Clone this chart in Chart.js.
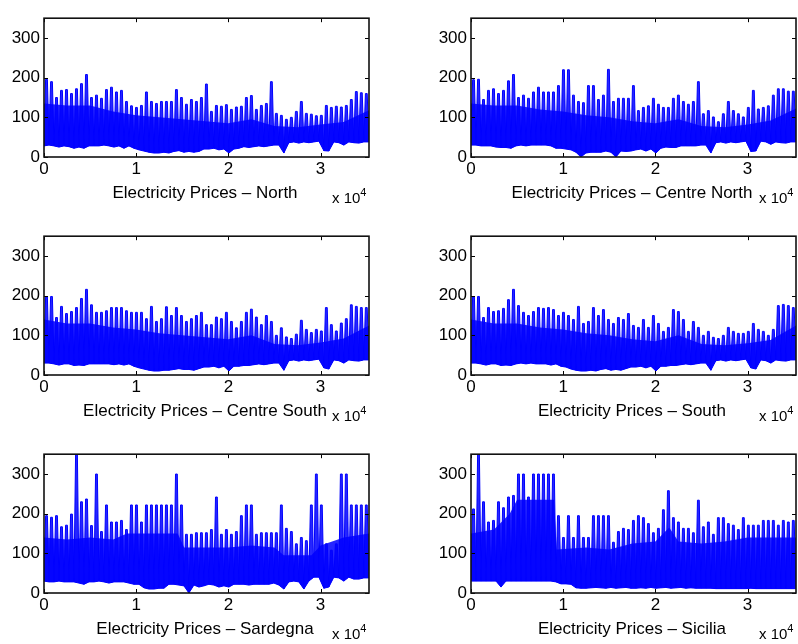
<!DOCTYPE html>
<html>
<head>
<meta charset="utf-8">
<script src="https://cdn.jsdelivr.net/npm/chart.js@4.4.1/dist/chart.umd.min.js"></script>
<style>
  html, body { margin:0; padding:0; background:#fff; width:798px; height:644px; overflow:hidden; }
  .cv { position:absolute; }
  .lbl { position:absolute; font-family:"Liberation Sans", Arial, Helvetica, sans-serif; font-size:17px; line-height:17px; color:#000; white-space:nowrap; transform:translateX(-50%); }
  .mul { position:absolute; font-family:"Liberation Sans", Arial, Helvetica, sans-serif; font-size:15px; line-height:15px; color:#000; white-space:nowrap; }
  .mul span { font-size:11px; position:relative; top:-7px; }
</style>
</head>
<body>
<script>
// ---------------- DATA ----------------
// Hourly index axis (0 .. ~3.5 x 10^4). Each entry = one bin of BIN_HOURS hours:
// lowest and highest price seen in that bin.
const BIN_HOURS = 542;
const X_MAX = 35250;
const X_TICKS = [0, 10000, 20000, 30000];
const X_TICK_LABELS = ['0', '1', '2', '3'];
const Y_TICKS = [0, 100, 200, 300];
const Y_MAX = 350;

const TITLES = [
  'Electricity Prices \u2013 North',
  'Electricity Prices \u2013 Centre North',
  'Electricity Prices \u2013 Centre South',
  'Electricity Prices \u2013 South',
  'Electricity Prices \u2013 Sardegna',
  'Electricity Prices \u2013 Sicilia'
];

// hours at which the upper edge of the dense (solid) part was read
const BAND_X = [0,2500,5000,7500,10000,12500,15000,17500,20000,22500,25000,27500,30000,32500,35250];

const NORTH_HIGH = [196,190,150,168,170,160,172,185,208,150, 156,148,170,176,164,168,140,129,125,130, 164,140,135,140,140,140,170,150,133,145, 140,150,184,115,130,128,132,120,126,128, 150,155,120,130,135,190,110,105,95,100, 115,140,110,108,104,105,130,125,128,126, 130,145,165,162,160];
const NORTH_LOW = [28,30,28,25,28,26,22,25,22,28, 28,28,30,28,25,28,22,28, 22,18,15,12,10,10,12,10, 14,16,12,14,12,14,20,20, 22,18,20,10,20,22,26, 24,26,28,26,28,30,30,10, 36,38,35,38,36,38,40,16, 15,38,36,30,38,36,35,38];
const NORTH_BAND = [135,130,130,115,105,100,95,90,85,95,78,75,82,88,118];

const CNORTH_HIGH = [195,196,145,168,172,160,168,192,208,150, 156,148,164,176,164,164,164,180,220,220, 156,140,137,180,180,145,156,221,140,148, 148,148,180,117,125,129,148,133,125,125, 148,156,140,133,140,190,109,117,101,89, 109,140,117,109,101,125,168,121,125,129, 156,172,172,166,166];
const CNORTH_LOW = [30,30,28,28,28,25,24,24,22,28, 30,28,30,30,30,30,28,22, 22,20,18,12,0,10,12,12, 12,15,12,0,15,14,15,18, 20,15,20,10,22,25,24, 24,28,28,28,28,30,30,10, 36,38,35,38,36,38,40,14, 15,40,38,32,38,36,35,38];
const CNORTH_BAND = [135,130,130,120,115,105,100,90,85,95,78,75,82,92,122];

const CSOUTH_HIGH = [197,198,145,173,155,160,170,193,216,177, 158,158,162,170,170,170,162,158,158,158, 142,173,135,142,172,150,170,150,135,142, 150,158,127,127,146,142,158,135,119,135, 158,166,146,127,150,135,100,119,96,92, 103,138,115,107,115,111,170,127,111,131, 142,177,173,170,170];
const CSOUTH_LOW = [30,30,28,25,28,28,24,25,24,28, 28,28,28,28,26,28,25,28, 22,18,15,12,10,10,12,12, 14,16,14,14,12,16,20,20, 22,18,22,10,22,22,24, 24,26,28,26,28,30,30,12, 36,38,35,38,36,38,40,18, 15,38,36,30,38,36,35,38];
const CSOUTH_BAND = [140,130,130,120,115,105,100,95,90,100,78,75,82,92,125];

const SOUTH_HIGH = [197,198,145,170,160,162,168,190,216,175, 158,150,160,170,168,170,165,150,158,150, 140,173,130,135,170,150,165,140,130,145, 140,155,125,120,140,120,150,130,110,120, 165,160,140,110,135,120,100,110,95,92, 100,120,110,105,105,110,130,115,110,100, 115,175,178,175,170];
const SOUTH_LOW = [30,30,28,25,28,28,24,25,24,28, 30,28,30,28,28,28,25,28, 22,20,15,12,10,10,12,10, 14,16,12,14,12,16,20,20, 22,18,22,10,22,22,24, 24,26,28,26,28,30,30,12, 36,38,35,38,36,38,40,18, 15,38,36,30,38,36,35,38];
const SOUTH_BAND = [140,130,130,120,115,105,100,90,85,100,78,75,80,88,125];

const SARDEGNA_HIGH = [195,191,195,167,171,199,350,230,237,170, 300,155,222,179,179,183,160,222,222,179, 222,222,222,222,222,222,300,222,148,148, 152,152,152,160,242,148,160,148,155,195, 222,222,148,152,152,152,152,222,163,155, 124,140,132,222,300,222,124,108,124,300, 300,222,222,222,222];
const SARDEGNA_LOW = [30,28,28,30,28,28,28,25,22,28, 28,30,28,25,28,28,28,25, 22,22,13,10,10,12,12,22, 22,20,18,0,20,15,18,22, 20,15,18,15,22,22,22, 20,22,22,22,22,25,20,10, 28,30,28,10,30,40,40,12, 15,40,38,30,40,35,35,38];
const SARDEGNA_BAND_X = [0,2500,5000,7500,9000,14500,15200,20000,22500,25000,26000,29000,30000,32500,35250];
const SARDEGNA_BAND = [140,135,140,135,150,150,115,115,120,115,95,95,120,140,150];

const SICILIA_HIGH = [212,350,230,179,183,230,215,242,246,300, 300,242,300,300,300,300,300,195,140,195, 140,195,140,140,195,195,195,195,128,155, 163,160,183,195,190,175,152,163,210,258, 190,179,163,163,152,234,167,179,148,190, 190,175,171,160,190,171,171,171,183,183, 183,171,183,179,183];
const SICILIA_LOW = [30,30,30,30,30,30,15,30,30,30, 30,30,30,30,30,30,30,28, 23,23,22,13,12,12,13,14, 13,12,14,12,13,14,12,12, 13,12,14,12,13,14,12, 13,14,12,13,12,12,12,12, 11,11,11,11,11,11,11,12, 11,11,11,11,11,11,11,11];
const SICILIA_BAND_X = [0,2500,4200,5000,9000,9300,12500,15000,17500,20000,21500,22500,25000,27500,30000,32500,35250];
const SICILIA_BAND = [150,160,200,235,235,110,115,110,125,130,165,130,125,130,140,140,140];

const SERIES = [
  [NORTH_LOW, NORTH_HIGH, BAND_X, NORTH_BAND],
  [CNORTH_LOW, CNORTH_HIGH, BAND_X, CNORTH_BAND],
  [CSOUTH_LOW, CSOUTH_HIGH, BAND_X, CSOUTH_BAND],
  [SOUTH_LOW, SOUTH_HIGH, BAND_X, SOUTH_BAND],
  [SARDEGNA_LOW, SARDEGNA_HIGH, SARDEGNA_BAND_X, SARDEGNA_BAND],
  [SICILIA_LOW, SICILIA_HIGH, SICILIA_BAND_X, SICILIA_BAND]
];

// ---------------- LAYOUT ----------------
const COL_LEFT = [44, 471];
const ROW_TOP = [10, 228, 446];
const AX_W = 325, AX_H = 147;
const PAD_L = 50, PAD_T = 6, PAD_R = 2, PAD_B = 30;
const BLUE = '#0000ff';

// spikes: bin low -> bin high (short top) -> next bin low
function buildTrace(lows, highs) {
  const pts = [];
  for (let k = 0; k < highs.length; k++) {
    const x0 = k * BIN_HOURS;
    pts.push({ x: x0, y: lows[k] });
    pts.push({ x: x0 + BIN_HOURS * 0.32, y: highs[k] });
    pts.push({ x: x0 + BIN_HOURS * 0.68, y: highs[k] });
  }
  pts.push({ x: highs.length * BIN_HOURS, y: lows[lows.length - 1] });
  return pts;
}
// lower envelope (bin lows): floor of the filled areas
function buildFloor(lows) {
  const pts = lows.map((v, k) => ({ x: k * BIN_HOURS, y: v }));
  pts.push({ x: lows.length * BIN_HOURS, y: lows[lows.length - 1] });
  return pts;
}
function buildBand(xs, ys) {
  return ys.map((v, k) => ({ x: xs[k], y: v }));
}

const boxPlugin = {
  id: 'matlabBox',
  afterDraw(chart) {
    const { ctx, chartArea: a, scales: { x, y } } = chart;
    ctx.save();
    ctx.strokeStyle = '#000';
    ctx.lineWidth = 1;
    const TL = 4;
    ctx.beginPath();
    x.ticks.forEach(t => {
      const px = Math.round(x.getPixelForValue(t.value)) + 0.5;
      ctx.moveTo(px, a.bottom); ctx.lineTo(px, a.bottom - TL);
      ctx.moveTo(px, a.top); ctx.lineTo(px, a.top + TL);
    });
    y.ticks.forEach(t => {
      const py = Math.round(y.getPixelForValue(t.value)) + 0.5;
      ctx.moveTo(a.left, py); ctx.lineTo(a.left + TL, py);
      ctx.moveTo(a.right, py); ctx.lineTo(a.right - TL, py);
    });
    ctx.stroke();
    ctx.lineWidth = 1.6;
    ctx.strokeStyle = '#111';
    ctx.strokeRect(a.left, a.top, a.right - a.left, a.bottom - a.top);
    ctx.restore();
  }
};

const FONT = { family: '"Liberation Sans", Arial, Helvetica, sans-serif', size: 17 };

for (let i = 0; i < 6; i++) {
  const col = i % 2, row = Math.floor(i / 2);
  const L = COL_LEFT[col], T = ROW_TOP[row];
  const cv = document.createElement('canvas');
  cv.className = 'cv';
  const W = PAD_L + AX_W + PAD_R, H = PAD_T + AX_H + PAD_B;
  cv.width = W; cv.height = H;
  cv.style.left = (L - PAD_L) + 'px';
  cv.style.top = (T - PAD_T) + 'px';
  cv.style.width = W + 'px'; cv.style.height = H + 'px';
  document.body.appendChild(cv);

  const [lows, highs, bandX, band] = SERIES[i];
  new Chart(cv, {
    type: 'line',
    data: {
      datasets: [
        { // floor line (bin lows)
          data: buildFloor(lows),
          borderColor: BLUE, borderWidth: 1, pointRadius: 0, tension: 0, fill: false
        },
        { // dense part
          data: buildBand(bandX, band),
          borderColor: 'rgba(0,0,255,0)', borderWidth: 0,
          backgroundColor: 'rgba(0,0,255,0.85)',
          pointRadius: 0, tension: 0, fill: 0
        },
        { // spikes
          data: buildTrace(lows, highs),
          borderColor: BLUE, borderWidth: 1,
          backgroundColor: 'rgba(0,0,255,0.85)',
          pointRadius: 0, tension: 0, fill: 0
        }
      ]
    },
    options: {
      responsive: false,
      animation: false,
      devicePixelRatio: 1,
      layout: { padding: { left: 0, top: PAD_T, right: PAD_R, bottom: 0 } },
      plugins: { legend: { display: false }, tooltip: { enabled: false } },
      scales: {
        x: {
          type: 'linear', min: 0, max: X_MAX,
          grid: { display: false, drawTicks: false },
          border: { display: false },
          afterBuildTicks: s => { s.ticks = X_TICKS.map(v => ({ value: v })); },
          afterFit: s => { s.height = PAD_B; },
          ticks: {
            autoSkip: false, maxRotation: 0, padding: 2, color: '#000', font: FONT,
            callback: v => X_TICK_LABELS[X_TICKS.indexOf(v)]
          }
        },
        y: {
          type: 'linear', min: 0, max: Y_MAX,
          grid: { display: false, drawTicks: false },
          border: { display: false },
          afterBuildTicks: s => { s.ticks = Y_TICKS.map(v => ({ value: v })); },
          afterFit: s => { s.width = PAD_L; },
          ticks: { padding: 4, color: '#000', font: FONT, callback: v => String(v) }
        }
      }
    },
    plugins: [boxPlugin]
  });

  const bottom = T + AX_H;
  const lbl = document.createElement('div');
  lbl.className = 'lbl';
  lbl.textContent = TITLES[i];
  lbl.style.left = (L + AX_W / 2 - 1.5) + 'px';
  lbl.style.top = (bottom + 26.6) + 'px';
  document.body.appendChild(lbl);

  const mul = document.createElement('div');
  mul.className = 'mul';
  mul.innerHTML = 'x 10<span>4</span>';
  mul.style.left = (L + AX_W - 37) + 'px';
  mul.style.top = (bottom + 32.5) + 'px';
  document.body.appendChild(mul);
}
</script>
</body>
</html>
